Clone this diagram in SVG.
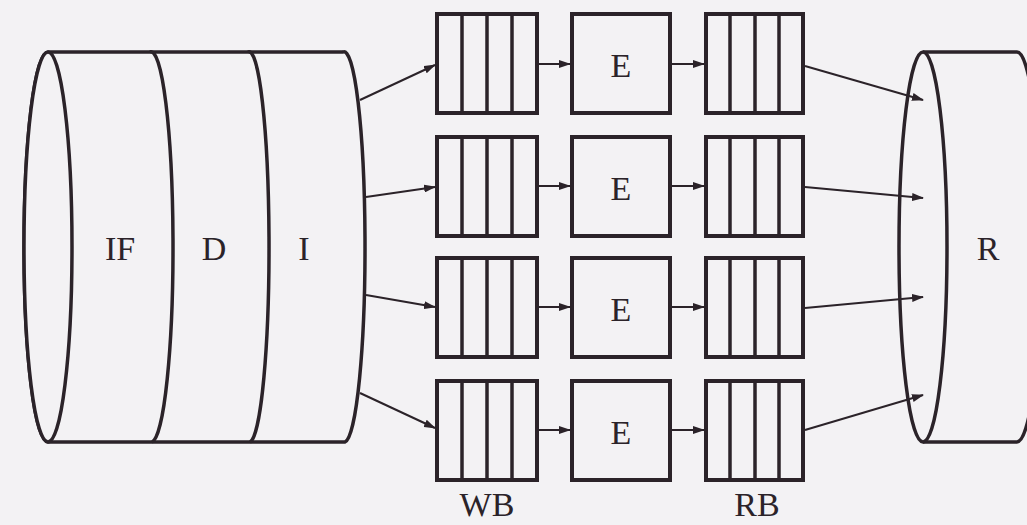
<svg xmlns="http://www.w3.org/2000/svg" width="1027" height="525" viewBox="0 0 1027 525">
<style>
.sh{fill:#f3f2f4;stroke:#2b2329;stroke-width:3.5}
.dv{fill:none;stroke:#2b2329;stroke-width:3.5}
.bx{fill:#f3f2f4;stroke:#2b2329;stroke-width:4}
.cl{stroke:#2b2329;stroke-width:3.5}
.ar{fill:none;stroke:#2b2329;stroke-width:2;marker-end:url(#ah)}
.t{font-family:"Liberation Serif","Times New Roman",serif;font-size:34px;fill:#2b2329;text-anchor:middle}
</style>
<defs>
<marker id="ah" markerUnits="userSpaceOnUse" markerWidth="12" markerHeight="8" refX="11" refY="4" orient="auto">
<path d="M0,0 L12,4 L0,8 z" fill="#2b2329"/>
</marker>
<g id="wbcells">
<rect class="bx" x="0" y="0" width="100" height="99"/>
<line class="cl" x1="25" y1="0" x2="25" y2="99"/>
<line class="cl" x1="50" y1="0" x2="50" y2="99"/>
<line class="cl" x1="75" y1="0" x2="75" y2="99"/>
</g>
<g id="rbcells">
<rect class="bx" x="0" y="0" width="97" height="99"/>
<line class="cl" x1="24" y1="0" x2="24" y2="99"/>
<line class="cl" x1="49" y1="0" x2="49" y2="99"/>
<line class="cl" x1="73" y1="0" x2="73" y2="99"/>
</g>
</defs>
<rect x="0" y="0" width="1027" height="525" fill="#f3f2f4"/>

<g id="left-cylinder">
<path class="sh" d="M48,52 L343,52 A21,195 0 0 1 345,442 L48,442 A24,195 0 0 1 48,52 Z"/>
<ellipse class="sh" cx="48" cy="247" rx="24" ry="195"/>
<path class="dv" d="M150,52 A22,195 0 0 1 152,442"/>
<path class="dv" d="M248,52 A20,195 0 0 1 250,442"/>
<text class="t" x="120" y="260">IF</text>
<text class="t" x="214" y="260">D</text>
<text class="t" x="304" y="260">I</text>
</g>

<g id="right-cylinder">
<path class="sh" d="M923,52 L1017,52 A24,195 0 0 1 1017,442 L923,442"/>
<ellipse class="sh" cx="923" cy="247" rx="24" ry="195"/>
<text class="t" x="988" y="260">R</text>
</g>

<g id="wb1"><use href="#wbcells" x="437" y="14"/></g>
<g id="wb2"><use href="#wbcells" x="437" y="137"/></g>
<g id="wb3"><use href="#wbcells" x="437" y="258"/></g>
<g id="wb4"><use href="#wbcells" x="437" y="381"/></g>

<g id="e1"><rect class="bx" x="572" y="14" width="98" height="99"/><text class="t" x="621" y="77">E</text></g>
<g id="e2"><rect class="bx" x="572" y="137" width="98" height="99"/><text class="t" x="621" y="200">E</text></g>
<g id="e3"><rect class="bx" x="572" y="258" width="98" height="99"/><text class="t" x="621" y="321">E</text></g>
<g id="e4"><rect class="bx" x="572" y="381" width="98" height="99"/><text class="t" x="621" y="444">E</text></g>

<g id="rb1"><use href="#rbcells" x="706" y="14"/></g>
<g id="rb2"><use href="#rbcells" x="706" y="137"/></g>
<g id="rb3"><use href="#rbcells" x="706" y="258"/></g>
<g id="rb4"><use href="#rbcells" x="706" y="381"/></g>

<g id="connectors">
<line class="ar" x1="360" y1="100" x2="435" y2="65"/>
<line class="ar" x1="366" y1="197" x2="435" y2="187"/>
<line class="ar" x1="366" y1="295" x2="435" y2="307"/>
<line class="ar" x1="360" y1="393" x2="435" y2="428"/>

<line class="ar" x1="539" y1="64" x2="570" y2="64"/>
<line class="ar" x1="539" y1="186" x2="570" y2="186"/>
<line class="ar" x1="539" y1="307" x2="570" y2="307"/>
<line class="ar" x1="539" y1="430" x2="570" y2="430"/>

<line class="ar" x1="672" y1="64" x2="704" y2="64"/>
<line class="ar" x1="672" y1="186" x2="704" y2="186"/>
<line class="ar" x1="672" y1="307" x2="704" y2="307"/>
<line class="ar" x1="672" y1="430" x2="704" y2="430"/>

<line class="ar" x1="805" y1="66" x2="923" y2="100"/>
<line class="ar" x1="805" y1="187" x2="923" y2="198"/>
<line class="ar" x1="805" y1="308" x2="923" y2="297"/>
<line class="ar" x1="805" y1="430" x2="923" y2="395"/>
</g>

<text class="t" x="487" y="516">WB</text>
<text class="t" x="757" y="516">RB</text>
</svg>
